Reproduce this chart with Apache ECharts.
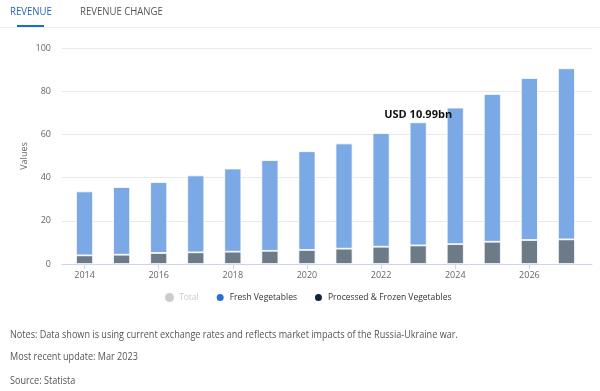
<!DOCTYPE html>
<html>
<head>
<meta charset="utf-8">
<script src="https://cdn.jsdelivr.net/npm/echarts@6/dist/echarts.min.js"></script>
<style>
html,body{margin:0;padding:0;background:#fff;}
#main{width:600px;height:391px;}
</style>
</head>
<body>
<div id="main"></div>
<script>
const years = ['2014','2015','2016','2017','2018','2019','2020','2021','2022','2023','2024','2025','2026','2027'];
const freshVegetables = [29.6, 31.3, 32.8, 35.6, 38.5, 42.0, 45.7, 48.7, 52.6, 57.0, 63.2, 68.4, 75.0, 79.2];
const processedFrozen = [4.0, 4.3, 5.1, 5.4, 5.7, 6.1, 6.5, 7.1, 8.0, 8.6, 9.2, 10.3, 11.1, 11.4];
const yTicks = [0, 20, 40, 60, 80, 100];
const annotationYear = '2023';
const annotationText = 'USD 10.99bn';
const legendNames = ['Total', 'Fresh Vegetables', 'Processed & Frozen Vegetables'];
const notes = [
  'Notes: Data shown is using current exchange rates and reflects market impacts of the Russia-Ukraine war.',
  'Most recent update: Mar 2023',
  'Source: Statista'
];

const chart = echarts.init(document.getElementById('main'), null, {renderer: 'canvas'});
const FONT = '"Open Sans", "Noto Sans", sans-serif';

const freshData = freshVegetables.map((v, i) => {
  if (years[i] === annotationYear) {
    return {
      value: v,
      label: {
        show: true, position: 'top', distance: 2,
        formatter: annotationText,
        color: '#111', fontWeight: 'bold', fontSize: 11, fontFamily: FONT
      }
    };
  }
  return v;
});

const noteScale = 0.79;
const tabScale = 0.87;

const option = {
  animation: false,
  textStyle: {fontFamily: FONT},
  graphic: [
    {type: 'text', x: 10, y: 6, scaleX: tabScale, style: {text: 'REVENUE', fill: '#1f5fc4', font: '500 11px ' + FONT}},
    {type: 'text', x: 80, y: 6, scaleX: tabScale, style: {text: 'REVENUE CHANGE', fill: '#555', font: '11px ' + FONT}},
    {type: 'rect', shape: {x: 0, y: 27, width: 600, height: 1}, style: {fill: '#eeeeee'}},
    {type: 'rect', shape: {x: 17, y: 25, width: 27, height: 2}, style: {fill: '#1a6ad8'}},
    {type: 'text', x: 10, y: 329, scaleX: noteScale, style: {text: notes[0], fill: '#555', font: '11.5px ' + FONT}},
    {type: 'text', x: 10, y: 351, scaleX: noteScale, style: {text: notes[1], fill: '#555', font: '11.5px ' + FONT}},
    {type: 'text', x: 10, y: 375, scaleX: noteScale, style: {text: notes[2], fill: '#555', font: '11.5px ' + FONT}}
  ],
  legend: {
    bottom: 83,
    left: 160,
    icon: 'circle',
    itemWidth: 9,
    itemHeight: 9,
    itemGap: 16,
    textStyle: {fontSize: 8.5, color: '#333', fontFamily: FONT},
    inactiveColor: '#cccccc',
    selected: {'Total': false},
    data: [
      {name: legendNames[0]},
      {name: legendNames[1], itemStyle: {color: '#2a6fd6'}},
      {name: legendNames[2], itemStyle: {color: '#0f2441'}}
    ]
  },
  grid: [
    {left: 66, right: 15, top: 48, height: 216},
    {left: 62, right: 8, top: 48, height: 216}
  ],
  xAxis: [
    {
      type: 'category', gridIndex: 0, data: years,
      axisLine: {show: true, lineStyle: {color: '#ccd6eb'}},
      axisTick: {show: true, alignWithLabel: true, interval: 1, length: 5, lineStyle: {color: '#ccd6eb'}},
      axisLabel: {interval: 1, color: '#666', fontSize: 9, margin: 7, fontFamily: FONT}
    },
    {
      type: 'category', gridIndex: 1, data: years,
      axisLine: {show: true, lineStyle: {color: '#ccd6eb'}},
      axisTick: {show: false}, axisLabel: {show: false}
    }
  ],
  yAxis: [
    {
      type: 'value', gridIndex: 0, min: 0, max: 100, interval: 20,
      axisLabel: {show: false}, splitLine: {show: false},
      axisLine: {show: false}, axisTick: {show: false}
    },
    {
      type: 'value', gridIndex: 1, min: 0, max: 100, interval: 20,
      name: 'Values', nameLocation: 'middle', nameGap: 33, nameMoveOverlap: false,
      nameTextStyle: {color: '#666', fontSize: 9, fontFamily: FONT},
      axisLabel: {color: '#666', fontSize: 9, margin: 11, fontFamily: FONT},
      splitLine: {lineStyle: {color: '#e9e9e9'}},
      axisLine: {show: false}, axisTick: {show: false}
    }
  ],
  series: [
    {
      name: legendNames[0], type: 'bar', xAxisIndex: 0, yAxisIndex: 0,
      data: [], itemStyle: {color: '#cccccc'}
    },
    {
      name: legendNames[2], type: 'bar', stack: 'rev', xAxisIndex: 0, yAxisIndex: 0,
      barWidth: 17, data: processedFrozen,
      itemStyle: {color: '#6d7b89', borderColor: '#ffffff', borderWidth: 0.8}
    },
    {
      name: legendNames[1], type: 'bar', stack: 'rev', xAxisIndex: 0, yAxisIndex: 0,
      barWidth: 17, data: freshData,
      itemStyle: {color: '#7aa9e6', borderColor: '#ffffff', borderWidth: 0.8}
    }
  ]
};
chart.setOption(option);
</script>
</body>
</html>
